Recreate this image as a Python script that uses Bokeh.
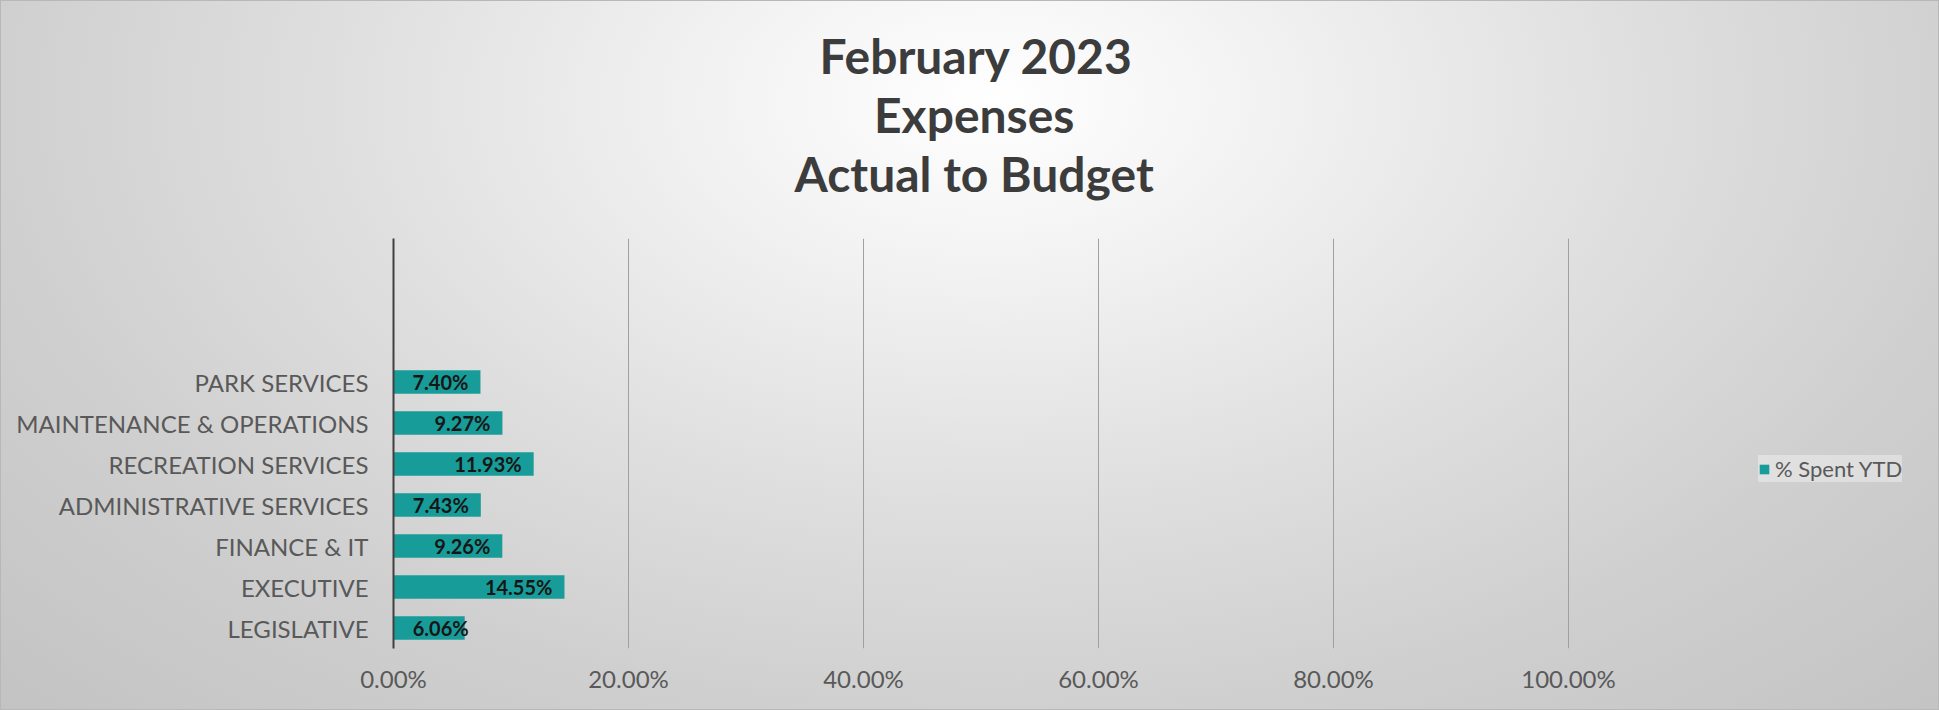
from bokeh.plotting import figure
from bokeh.models import (ColumnDataSource, FactorRange, Range1d, NumeralTickFormatter,
                          FixedTicker, Title, Legend, LegendItem, LabelSet)
from bokeh.core.properties import value
from bokeh.embed import file_html
from bokeh.resources import INLINE

# ---- data ----
categories = ["LEGISLATIVE", "EXECUTIVE", "FINANCE & IT", "ADMINISTRATIVE SERVICES",
              "RECREATION SERVICES", "MAINTENANCE & OPERATIONS", "PARK SERVICES"]
spent_ytd = [0.0606, 0.1455, 0.0926, 0.0743, 0.1193, 0.0927, 0.0740]
blank_slots = [" ", "  ", "   "]
x_ticks = [0.0, 0.2, 0.4, 0.6, 0.8, 1.0]
title_lines = ["February 2023", "Expenses", "Actual to Budget"]
series_name = "% Spent YTD"

FONT = "Lato"
BAR = "#179C99"
GREY_TXT = "#595959"

src = ColumnDataSource(dict(
    cat=categories,
    val=spent_ytd,
    lbl=[f"{v * 100:.2f}%" for v in spent_ytd],
    off=[-12 if v > 0.065 else 4 for v in spent_ytd],
))

# plot area: 0..100% spans 1175 px; the frame runs on to the right edge (legend lives there)
p = figure(width=1939, height=710, output_backend="svg", toolbar_location=None,
           y_range=FactorRange(factors=categories + blank_slots, range_padding=0),
           x_range=Range1d(0, 1547 / 1175),
           min_border_left=392, min_border_right=0, min_border_top=237, min_border_bottom=63)

p.background_fill_alpha = 0
p.border_fill_alpha = 0
p.outline_line_color = None
p.styles = {
    "background-image": "radial-gradient(ellipse farthest-corner at 51% 14%, #ffffff 0%, #f2f2f2 20%, #dedede 48%, #cfcfcf 72%, #c3c3c3 100%)",
    "border": "1px solid #b8b8b8",
    "box-sizing": "border-box",
}

bars = p.hbar(y="cat", left=0, right="val", height=0.57, source=src,
              fill_color=BAR, line_color=None)

labels = LabelSet(x="val", y="cat", text="lbl", source=src, x_offset="off",
                  text_align="right", text_baseline="middle",
                  text_font=value(FONT), text_font_style="bold", text_font_size="20px",
                  text_color="#161616")
p.add_layout(labels)

# axes
p.yaxis.axis_line_color = "#404040"
p.yaxis.axis_line_width = 2
p.yaxis.major_tick_line_color = None
p.yaxis.minor_tick_line_color = None
p.yaxis.major_label_text_font = FONT
p.yaxis.major_label_text_font_size = "24px"
p.yaxis.major_label_text_color = GREY_TXT
p.yaxis.major_label_standoff = 19

p.xaxis.ticker = FixedTicker(ticks=x_ticks)
p.xaxis.formatter = NumeralTickFormatter(format="0.00%")
p.xaxis.axis_line_color = None
p.xaxis.major_tick_line_color = None
p.xaxis.minor_tick_line_color = None
p.xaxis.major_label_text_font = FONT
p.xaxis.major_label_text_font_size = "24px"
p.xaxis.major_label_text_color = GREY_TXT
p.xaxis.major_label_standoff = 9

p.xgrid.ticker = FixedTicker(ticks=x_ticks)
p.xgrid.grid_line_color = "#a0a0a0"
p.xgrid.grid_line_width = 1
p.ygrid.grid_line_color = None

# title: spacer closest to the frame, then the lines from bottom to top,
# each line centred on x = 972 px (offset measured from the frame's left edge, 392 px)
title_widths = [308, 199, 358]
p.add_layout(Title(text=" ", text_font_size="24px", standoff=8), "above")
for t, w in reversed(list(zip(title_lines, title_widths))):
    p.add_layout(Title(text=t, align="left", offset=580 - w / 2, text_font=FONT,
                       text_font_style="bold", text_font_size="48px",
                       text_color="#3c3c3c", standoff=0), "above")

legend = Legend(items=[LegendItem(label=series_name, renderers=[bars])],
                location=(1365, 166), orientation="vertical",
                background_fill_color="white", background_fill_alpha=0.35,
                border_line_color=None, label_text_font=FONT,
                label_text_font_size="22px", label_text_color=GREY_TXT,
                glyph_width=12, glyph_height=12, label_standoff=5,
                padding=13, margin=0)
p.add_layout(legend)

open("out.html", "w").write(file_html(p, INLINE))
